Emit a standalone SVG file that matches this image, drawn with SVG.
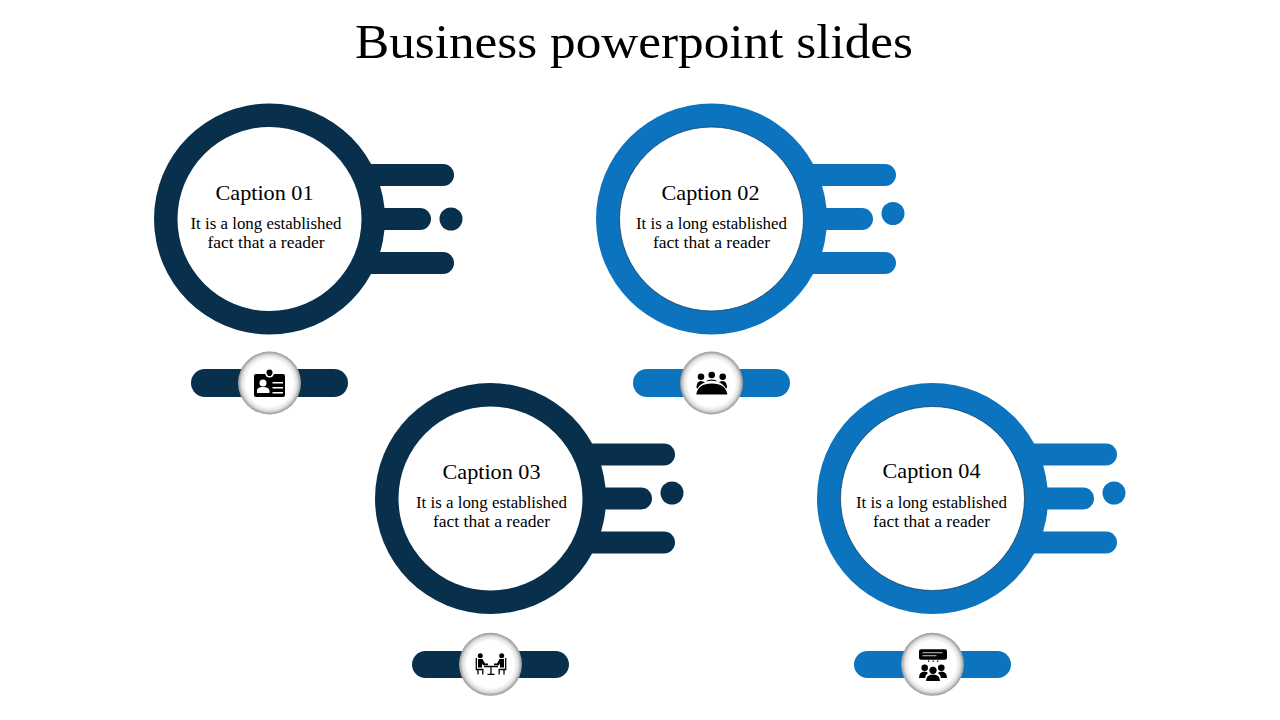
<svg xmlns="http://www.w3.org/2000/svg" width="1280" height="720" viewBox="0 0 1280 720">
<style>
text{font-family:"Liberation Serif","DejaVu Serif",serif;fill:#000;text-anchor:middle}
.title{font-size:49px}
.cap{font-size:21.500px}
.body{font-size:16.500px}
.navy{fill:#08304c}
.blue{fill:#0c74bf}
.hole{fill:#fff}
.blue .hole{stroke:#08304c;stroke-width:.7}
.badge{fill:url(#bg)}
.ic{fill:#000}
.icw{fill:#fff}
.ln{fill:none;stroke:#000;stroke-width:1.300}
</style>
<defs>
<radialGradient id="bg" cx="50%" cy="50%" r="50%"><stop offset="0" stop-color="#fff"/><stop offset=".74" stop-color="#fff"/><stop offset=".88" stop-color="#e2e2e2"/><stop offset=".96" stop-color="#adadad"/><stop offset="1" stop-color="#979797"/></radialGradient>
<g id="base">
<rect x="350" y="164" width="104" height="22" rx="11"/>
<rect x="350" y="208" width="81" height="22" rx="11"/>
<rect x="350" y="252" width="104" height="22" rx="11"/>
<circle cx="269.500" cy="219" r="115.500"/>
</g>
</defs>
<text class="title" x="634" y="58" textLength="558" lengthAdjust="spacingAndGlyphs">Business powerpoint slides</text>
<g id="node1" class="navy">
<use href="#base"/>
<circle cx="451" cy="219" r="11.500"/>
<circle class="hole" cx="269.500" cy="219" r="92"/>
<rect x="191" y="369" width="157" height="28" rx="14"/>
<text class="cap" x="264.500" y="200" textLength="98" lengthAdjust="spacingAndGlyphs">Caption 01</text>
<text class="body" x="266" y="229" textLength="151" lengthAdjust="spacingAndGlyphs">It is a long established</text>
<text class="body" x="266" y="248" textLength="117" lengthAdjust="spacingAndGlyphs">fact that a reader</text>
<circle class="badge" cx="269.500" cy="383" r="31.500"/>
<g id="icon1">
<rect class="ic" x="254" y="374" width="31" height="23" rx="2"/>
<circle class="icw" cx="269.500" cy="373" r="4.500"/>
<circle class="ic" cx="269.500" cy="372.500" r="3"/>
<rect class="ic" x="267.800" y="373" width="3.400" height="3"/>
<circle class="icw" cx="263" cy="383" r="3.500"/>
<path class="icw" d="M257 393v-2.500q0-3.500 6-3.500t6.500 3.500v2.500z"/>
<rect class="icw" x="272.500" y="382" width="10.500" height="1.500"/>
<rect class="icw" x="272.500" y="387" width="10.500" height="1.500"/>
<rect class="icw" x="272.500" y="392" width="10.500" height="1.500"/>
</g>
</g>
<g id="node2" class="blue">
<use href="#base" x="442"/>
<circle cx="893" cy="213.500" r="11.500"/>
<circle class="hole" cx="711.500" cy="219" r="92"/>
<rect x="633" y="369" width="157" height="28" rx="14"/>
<text class="cap" x="710.500" y="200" textLength="98" lengthAdjust="spacingAndGlyphs">Caption 02</text>
<text class="body" x="711.500" y="229" textLength="151" lengthAdjust="spacingAndGlyphs">It is a long established</text>
<text class="body" x="711.500" y="248" textLength="117" lengthAdjust="spacingAndGlyphs">fact that a reader</text>
<circle class="badge" cx="711.500" cy="383" r="31.500"/>
<g id="icon2">
<circle class="ic" cx="701" cy="376.700" r="3.300"/>
<circle class="ic" cx="711.700" cy="375" r="3.300"/>
<circle class="ic" cx="722.700" cy="376.700" r="3.300"/>
<path class="ic" d="M696.500 388q0-7 4.500-7 2.500 0 4 1.500-5 1.500-7.500 6zM706 381.500q1.500-2 5.700-2t5.700 2q-5.700-1.500-11.400 0zM718.500 382.500q1.500-1.500 4-1.500 4.500 0 4.500 7l-1 .5q-2.500-4.500-7.500-6.500z"/>
<path class="ic" d="M696.300 394.500q1.500-11 15.500-11t15.500 11z"/>
</g>
</g>
<g id="node3" class="navy">
<use href="#base" x="221" y="279.500"/>
<circle cx="672" cy="493" r="11.500"/>
<circle class="hole" cx="490.500" cy="498.500" r="92"/>
<rect x="412" y="651" width="157" height="27" rx="13.500"/>
<text class="cap" x="491.500" y="479" textLength="98" lengthAdjust="spacingAndGlyphs">Caption 03</text>
<text class="body" x="491.500" y="508" textLength="151" lengthAdjust="spacingAndGlyphs">It is a long established</text>
<text class="body" x="491.500" y="527" textLength="117" lengthAdjust="spacingAndGlyphs">fact that a reader</text>
<circle class="badge" cx="490.500" cy="664.300" r="31.500"/>
<g id="icon3">
<circle class="ic" cx="480.300" cy="655.800" r="2.500"/>
<circle class="ic" cx="501.700" cy="655.800" r="2.500"/>
<path class="ic" d="M478 659h4.500l2.500 4.500h3v1.800h-5l-1-2v4.200h-4zM504 659h-4.500l-2.500 4.500h-3v1.800h5l1-2v4.200h4z"/>
<path class="ln" d="M476.300 658v11.500h6.500v5M478 669.500v5M505.700 658v11.500h-6.500v5M504 669.500v5M484 666.500h14M491 666.500v7.500M487.500 674.300h7"/>
</g>
</g>
<g id="node4" class="blue">
<use href="#base" x="663" y="279.500"/>
<circle cx="1114" cy="493" r="11.500"/>
<circle class="hole" cx="932.500" cy="498.500" r="92"/>
<rect x="854" y="651" width="157" height="27" rx="13.500"/>
<text class="cap" x="931.500" y="478" textLength="98" lengthAdjust="spacingAndGlyphs">Caption 04</text>
<text class="body" x="931.500" y="508" textLength="151" lengthAdjust="spacingAndGlyphs">It is a long established</text>
<text class="body" x="931.500" y="527" textLength="117" lengthAdjust="spacingAndGlyphs">fact that a reader</text>
<circle class="badge" cx="932.500" cy="664.300" r="31.500"/>
<g id="icon4">
<rect class="ic" x="919" y="649.300" width="28" height="10.500" rx="2"/>
<rect x="922.500" y="652" width="20" height="1.300" fill="#9a9a9a"/>
<rect x="922.500" y="655" width="14" height="1.300" fill="#9a9a9a"/>
<rect class="ic" x="928" y="660.500" width="1.300" height="1.300"/>
<rect class="ic" x="932.500" y="660.500" width="1.300" height="1.300"/>
<rect class="ic" x="937" y="660.500" width="1.300" height="1.300"/>
<circle class="ic" cx="924.700" cy="667.700" r="3.300"/>
<circle class="ic" cx="933" cy="670.300" r="3.600"/>
<circle class="ic" cx="941.300" cy="667.700" r="3.300"/>
<path class="ic" d="M919 678q0-6.500 5.500-6.500 2.500 0 3.500 1.500-3 2-3 5zM941 678q0-3-3-5 1-1.500 3.500-1.500 5.500 0 5.500 6.500z"/>
<path class="ic" d="M926 681q0-6.500 7-6.500t7 6.500z"/>
</g>
</g>
</svg>
